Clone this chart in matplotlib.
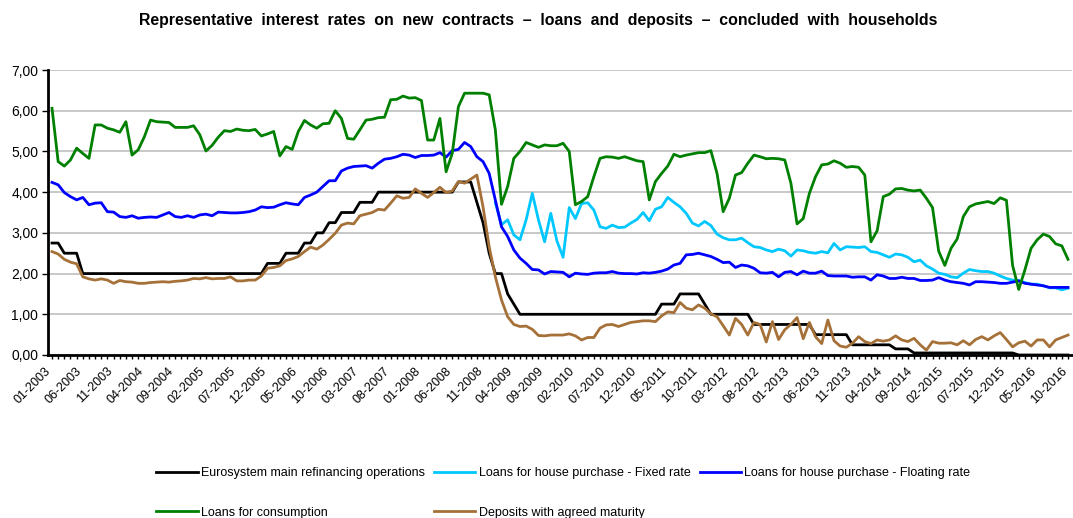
"""Representative interest rates on new contracts with households (2003-2016)."""

import matplotlib.pyplot as plt
import matplotlib.transforms as mtransforms
import numpy as np

# monthly observations, 01-2003 .. 10-2016
months = [f"{m:02d}-{y}" for y in range(2003, 2017) for m in range(1, 13)][:166]

ecb_rate = [
    2.75, 2.75, 2.50, 2.50, 2.50, 2.00, 2.00, 2.00, 2.00, 2.00, 2.00, 2.00,
    2.00, 2.00, 2.00, 2.00, 2.00, 2.00, 2.00, 2.00, 2.00, 2.00, 2.00, 2.00,
    2.00, 2.00, 2.00, 2.00, 2.00, 2.00, 2.00, 2.00, 2.00, 2.00, 2.00, 2.25,
    2.25, 2.25, 2.50, 2.50, 2.50, 2.75, 2.75, 3.00, 3.00, 3.25, 3.25, 3.50,
    3.50, 3.50, 3.75, 3.75, 3.75, 4.00, 4.00, 4.00, 4.00, 4.00, 4.00, 4.00,
    4.00, 4.00, 4.00, 4.00, 4.00, 4.00, 4.25, 4.25, 4.25, 3.75, 3.25, 2.50,
    2.00, 2.00, 1.50, 1.25, 1.00, 1.00, 1.00, 1.00, 1.00, 1.00, 1.00, 1.00,
    1.00, 1.00, 1.00, 1.00, 1.00, 1.00, 1.00, 1.00, 1.00, 1.00, 1.00, 1.00,
    1.00, 1.00, 1.00, 1.25, 1.25, 1.25, 1.50, 1.50, 1.50, 1.50, 1.25, 1.00,
    1.00, 1.00, 1.00, 1.00, 1.00, 1.00, 0.75, 0.75, 0.75, 0.75, 0.75, 0.75,
    0.75, 0.75, 0.75, 0.75, 0.50, 0.50, 0.50, 0.50, 0.50, 0.50, 0.25, 0.25,
    0.25, 0.25, 0.25, 0.25, 0.25, 0.15, 0.15, 0.15, 0.05, 0.05, 0.05, 0.05,
    0.05, 0.05, 0.05, 0.05, 0.05, 0.05, 0.05, 0.05, 0.05, 0.05, 0.05, 0.05,
    0.05, 0.00, 0.00, 0.00, 0.00, 0.00, 0.00, 0.00, 0.00, 0.00,
]

# fixed-rate series only starts in 01-2009
fixed_start = 72
house_fixed = [
    3.74, 3.20, 3.32, 2.95, 2.83, 3.32, 3.97, 3.32, 2.78, 3.48, 2.80, 2.40,
    3.62, 3.35, 3.72, 3.74, 3.56, 3.15, 3.11, 3.19, 3.13, 3.14, 3.24, 3.33,
    3.50, 3.30, 3.58, 3.64, 3.87, 3.75, 3.64, 3.48, 3.24, 3.17, 3.28, 3.18,
    2.97, 2.88, 2.83, 2.83, 2.87, 2.76, 2.66, 2.64, 2.58, 2.54, 2.60, 2.56,
    2.43, 2.58, 2.56, 2.52, 2.50, 2.54, 2.51, 2.74, 2.58, 2.66, 2.65, 2.64,
    2.66, 2.54, 2.52, 2.46, 2.40, 2.48, 2.46, 2.40, 2.29, 2.33, 2.19, 2.11,
    2.01, 1.98, 1.92, 1.90, 2.01, 2.10, 2.07, 2.05, 2.05, 2.01, 1.94, 1.88,
    1.84, 1.83, 1.78, 1.74, 1.74, 1.70, 1.65, 1.65, 1.60, 1.64,
]

house_floating = [
    4.24, 4.18, 3.99, 3.89, 3.81, 3.87, 3.69, 3.73, 3.74, 3.52, 3.51, 3.40,
    3.38, 3.42, 3.36, 3.38, 3.39, 3.38, 3.44, 3.50, 3.40, 3.38, 3.42, 3.38,
    3.44, 3.46, 3.42, 3.51, 3.50, 3.49, 3.49, 3.50, 3.52, 3.56, 3.64, 3.62,
    3.63, 3.69, 3.74, 3.71, 3.69, 3.87, 3.93, 4.00, 4.14, 4.28, 4.28, 4.52,
    4.59, 4.63, 4.64, 4.65, 4.59, 4.71, 4.81, 4.83, 4.87, 4.93, 4.91, 4.85,
    4.90, 4.90, 4.91, 4.97, 4.86, 5.02, 5.05, 5.22, 5.12, 4.87, 4.75, 4.46,
    3.81, 3.15, 2.91, 2.58, 2.38, 2.25, 2.10, 2.09, 1.99, 2.05, 2.04, 2.03,
    1.92, 2.01, 1.99, 1.98, 2.01, 2.02, 2.02, 2.05, 2.01, 2.00, 2.00, 1.99,
    2.02, 2.01, 2.03, 2.06, 2.11, 2.21, 2.25, 2.46, 2.47, 2.50, 2.46, 2.42,
    2.35, 2.27, 2.28, 2.15, 2.21, 2.19, 2.13, 2.02, 2.01, 2.03, 1.92, 2.03,
    2.05, 1.97, 2.06, 2.01, 2.01, 2.06, 1.95, 1.94, 1.94, 1.94, 1.91, 1.92,
    1.92, 1.84, 1.97, 1.94, 1.88, 1.88, 1.91, 1.88, 1.88, 1.83, 1.83, 1.84,
    1.90, 1.84, 1.80, 1.78, 1.76, 1.72, 1.80, 1.80, 1.79, 1.78, 1.76, 1.76,
    1.79, 1.82, 1.76, 1.74, 1.72, 1.70, 1.66, 1.66, 1.66, 1.66,
]

consumption = [
    6.06, 4.75, 4.64, 4.79, 5.08, 4.95, 4.83, 5.65, 5.65, 5.57, 5.53, 5.47,
    5.73, 4.91, 5.04, 5.36, 5.77, 5.73, 5.72, 5.71, 5.59, 5.59, 5.59, 5.63,
    5.41, 5.01, 5.15, 5.35, 5.51, 5.49, 5.55, 5.52, 5.51, 5.54, 5.38, 5.43,
    5.49, 4.89, 5.12, 5.05, 5.49, 5.76, 5.65, 5.57, 5.68, 5.69, 6.00, 5.81,
    5.32, 5.30, 5.53, 5.77, 5.79, 5.83, 5.84, 6.27, 6.28, 6.36, 6.31, 6.32,
    6.25, 5.28, 5.28, 5.81, 4.50, 4.95, 6.10, 6.43, 6.43, 6.43, 6.43, 6.39,
    5.53, 3.70, 4.14, 4.83, 5.00, 5.22, 5.16, 5.10, 5.16, 5.14, 5.14, 5.20,
    5.00, 3.69, 3.77, 3.89, 4.38, 4.83, 4.87, 4.86, 4.83, 4.87, 4.82, 4.77,
    4.75, 3.81, 4.26, 4.46, 4.64, 4.93, 4.87, 4.91, 4.94, 4.97, 4.97, 5.02,
    4.46, 3.52, 3.85, 4.42, 4.48, 4.71, 4.91, 4.87, 4.82, 4.83, 4.82, 4.79,
    4.22, 3.22, 3.35, 3.97, 4.38, 4.67, 4.69, 4.77, 4.71, 4.61, 4.63, 4.61,
    4.42, 2.78, 3.05, 3.89, 3.95, 4.08, 4.09, 4.05, 4.03, 4.05, 3.85, 3.62,
    2.55, 2.20, 2.62, 2.85, 3.40, 3.64, 3.71, 3.74, 3.77, 3.72, 3.86, 3.80,
    2.20, 1.61, 2.09, 2.62, 2.83, 2.97, 2.91, 2.73, 2.68, 2.35,
]

deposits = [
    2.54, 2.48, 2.35, 2.28, 2.24, 1.92, 1.87, 1.84, 1.87, 1.84, 1.76, 1.83,
    1.80, 1.79, 1.76, 1.76, 1.78, 1.79, 1.80, 1.79, 1.81, 1.82, 1.84, 1.88,
    1.87, 1.90, 1.87, 1.88, 1.88, 1.92, 1.82, 1.82, 1.84, 1.84, 1.94, 2.13,
    2.15, 2.19, 2.32, 2.36, 2.42, 2.54, 2.65, 2.60, 2.70, 2.84, 2.99, 3.19,
    3.24, 3.22, 3.42, 3.46, 3.50, 3.58, 3.56, 3.73, 3.91, 3.85, 3.87, 4.08,
    3.97, 3.87, 3.99, 4.12, 3.99, 4.03, 4.26, 4.22, 4.32, 4.42, 3.64, 2.66,
    1.92, 1.35, 0.94, 0.75, 0.70, 0.71, 0.63, 0.48, 0.47, 0.49, 0.49, 0.49,
    0.52, 0.47, 0.37, 0.43, 0.43, 0.66, 0.74, 0.75, 0.70, 0.75, 0.80, 0.82,
    0.84, 0.84, 0.82, 0.96, 1.06, 1.04, 1.29, 1.15, 1.11, 1.23, 1.15, 1.01,
    0.94, 0.72, 0.49, 0.90, 0.75, 0.49, 0.80, 0.75, 0.32, 0.82, 0.38, 0.62,
    0.75, 0.92, 0.40, 0.80, 0.45, 0.28, 0.86, 0.35, 0.22, 0.19, 0.29, 0.45,
    0.33, 0.28, 0.37, 0.34, 0.37, 0.47, 0.37, 0.33, 0.41, 0.25, 0.12, 0.33,
    0.29, 0.29, 0.30, 0.25, 0.35, 0.25, 0.38, 0.45, 0.37, 0.47, 0.55, 0.38,
    0.20, 0.30, 0.34, 0.22, 0.37, 0.37, 0.20, 0.37, 0.43, 0.49,
]

plt.rcParams["font.family"] = ["Liberation Sans", "DejaVu Sans"]

x = np.arange(len(months))
fixed_full = np.full(len(months), np.nan)
fixed_full[fixed_start:] = house_fixed

fig = plt.figure(figsize=(10.73, 5.18), dpi=100)
ax = fig.add_axes([48 / 1073, 163 / 518, 1024 / 1073, 285 / 518])

lw = 2.0
l_ecb, = ax.plot(x, ecb_rate, color="black", lw=lw, label="Eurosystem main refinancing operations")
l_fix, = ax.plot(x, fixed_full, color="#00C8FF", lw=lw, label="Loans for house purchase - Fixed rate")
l_flt, = ax.plot(x, house_floating, color="#0000FF", lw=lw, label="Loans for house purchase - Floating rate")
l_con, = ax.plot(x, consumption, color="#008000", lw=lw, label="Loans for consumption")
l_dep, = ax.plot(x, deposits, color="#A57138", lw=lw, label="Deposits with agreed maturity")

ax.set_xlim(-0.65, len(months) - 1 + 0.65)
ax.set_ylim(0, 7)
ax.set_yticks(range(8))
ax.set_yticklabels([f"{v:.2f}".replace(".", ",") for v in range(8)], fontsize=10)
ax.set_xticks(x[::5])
ax.set_xticklabels(months[::5], rotation=45, ha="right", rotation_mode="anchor", fontsize=9)
ax.set_xticks(x, minor=True)
ax.tick_params(axis="x", which="both", direction="out", length=3, width=1, pad=4)
ax.tick_params(axis="y", direction="out", length=4, width=1, pad=3)

# nudge the slanted date labels a little to the left, as in the original
shift = mtransforms.ScaledTranslation(-7 / 100, 0, fig.dpi_scale_trans)
for lab in ax.get_xticklabels():
    lab.set_transform(lab.get_transform() + shift)

ax.yaxis.grid(True, color="#BFBFBF", lw=1.2)
ax.set_axisbelow(True)
for side in ("top", "right"):
    ax.spines[side].set_visible(False)
for side in ("left", "bottom"):
    ax.spines[side].set_linewidth(2)
    ax.spines[side].set_color("black")

fig.text(0.502, 1 - 20 / 518,
         "Representative  interest  rates  on  new  contracts  \u2013  loans  and  deposits  \u2013  concluded  with  households",
         ha="center", va="center", fontsize=11.4, fontweight="bold")

# column-wise fill: row 1 = ecb, fixed, floating; row 2 = consumption, deposits
fig.legend(
    handles=[l_ecb, l_con, l_fix, l_dep, l_flt],
    ncol=3,
    loc="upper left",
    bbox_to_anchor=(145 / 1073, 1 - 456 / 518),
    frameon=False,
    prop={"size": 9},
    handlelength=3.3,
    handletextpad=0.3,
    labelspacing=2.2,
    columnspacing=0.7,
)

fig.savefig("out.png", dpi=100)
